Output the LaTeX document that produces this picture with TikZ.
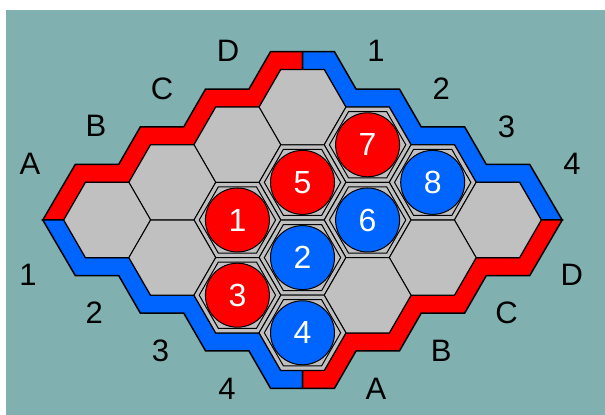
\documentclass[tikz,border=0pt]{standalone}
\usepackage{fontspec}
\setmainfont{Liberation Sans}
\usetikzlibrary{shapes.geometric}
\definecolor{hexTeal}{RGB}{128,177,176}
\definecolor{hexRed}{RGB}{255,0,0}
\definecolor{hexBlue}{RGB}{0,100,255}
\definecolor{hexGray}{RGB}{192,192,192}
\tikzset{hexCell/.style={draw,fill=hexGray,regular polygon,regular polygon sides=6,minimum size=43.4pt,inner sep=0pt,outer sep=0pt,line width=0.5pt},
 hexInner/.style={draw,regular polygon,regular polygon sides=6,minimum size=38.2pt,inner sep=0pt,outer sep=0pt,line width=0.5pt},
 hexStone/.style={draw,circle,minimum size=32pt,inner sep=0pt,outer sep=0pt,line width=0.5pt,text=white,font=\fontsize{16}{18}\selectfont},
 hexBand/.style={draw=black,line width=0.75pt,line join=miter},
 hexLabel/.style={font=\fontsize{15.5}{18}\selectfont,inner sep=0pt}}

\begin{document}
\begin{tikzpicture}[x=0.5pt,y=-0.5pt]
\useasboundingbox (0,0) rectangle (605,415);
\fill[hexTeal] (6,10) rectangle (605,415);
% edge bands, one quarter mirrored
\foreach \sx/\sy/\col in {1/1/hexRed,-1/1/hexBlue,1/-1/hexBlue,-1/-1/hexRed}{
\begin{scope}[shift={(302.5,220)},xscale=\sx,yscale=\sy]
\filldraw[hexBand,fill=\col] (-238.7,0) -- (-217,-37.6) -- (-173.6,-37.6) -- (-151.9,-75.2)
 -- (-108.5,-75.2) -- (-86.8,-112.8) -- (-43.4,-112.8) -- (-21.7,-150.4) -- (0,-150.4)
 -- (0,-168.4) -- (-31.9,-168.4) -- (-53.6,-130.8) -- (-97,-130.8) -- (-118.7,-93.2)
 -- (-162.1,-93.2) -- (-183.8,-55.6) -- (-227.2,-55.6) -- (-259.7,0) -- cycle;
\end{scope}}
% cells
\foreach \r in {0,...,3}{\foreach \c in {0,...,3}{
\node[hexCell] (c\r\c) at ({302.5+65.1*(\c-\r)},{107.2+37.6*(\r+\c)}) {};}}
% stones
\foreach \cell/\num/\col in {21/1/hexRed,32/3/hexRed,11/5/hexRed,01/7/hexRed,22/2/hexBlue,33/4/hexBlue,12/6/hexBlue,02/8/hexBlue}{
\node[hexInner] (r\num) at (c\cell) {};
\node[hexStone,fill=\col] (p\num) at (c\cell) {\num};}
% edge labels
\foreach \t [count=\k] in {A,B,C,D}{
\node[hexLabel] (ul\t) at ({30+66*(\k-1)},{164-37.7*(\k-1)}) {\t};
\node[hexLabel] (lr\t) at ({376+65.3*(\k-1)},{389-38*(\k-1)}) {\t};}
\foreach \t in {1,...,4}{
\node[hexLabel] (ur\t) at ({376+65.3*(\t-1)},{51+37.7*(\t-1)}) {\t};
\node[hexLabel] (ll\t) at ({28+66.3*(\t-1)},{275+38*(\t-1)}) {\t};}
\end{tikzpicture}
\end{document}
